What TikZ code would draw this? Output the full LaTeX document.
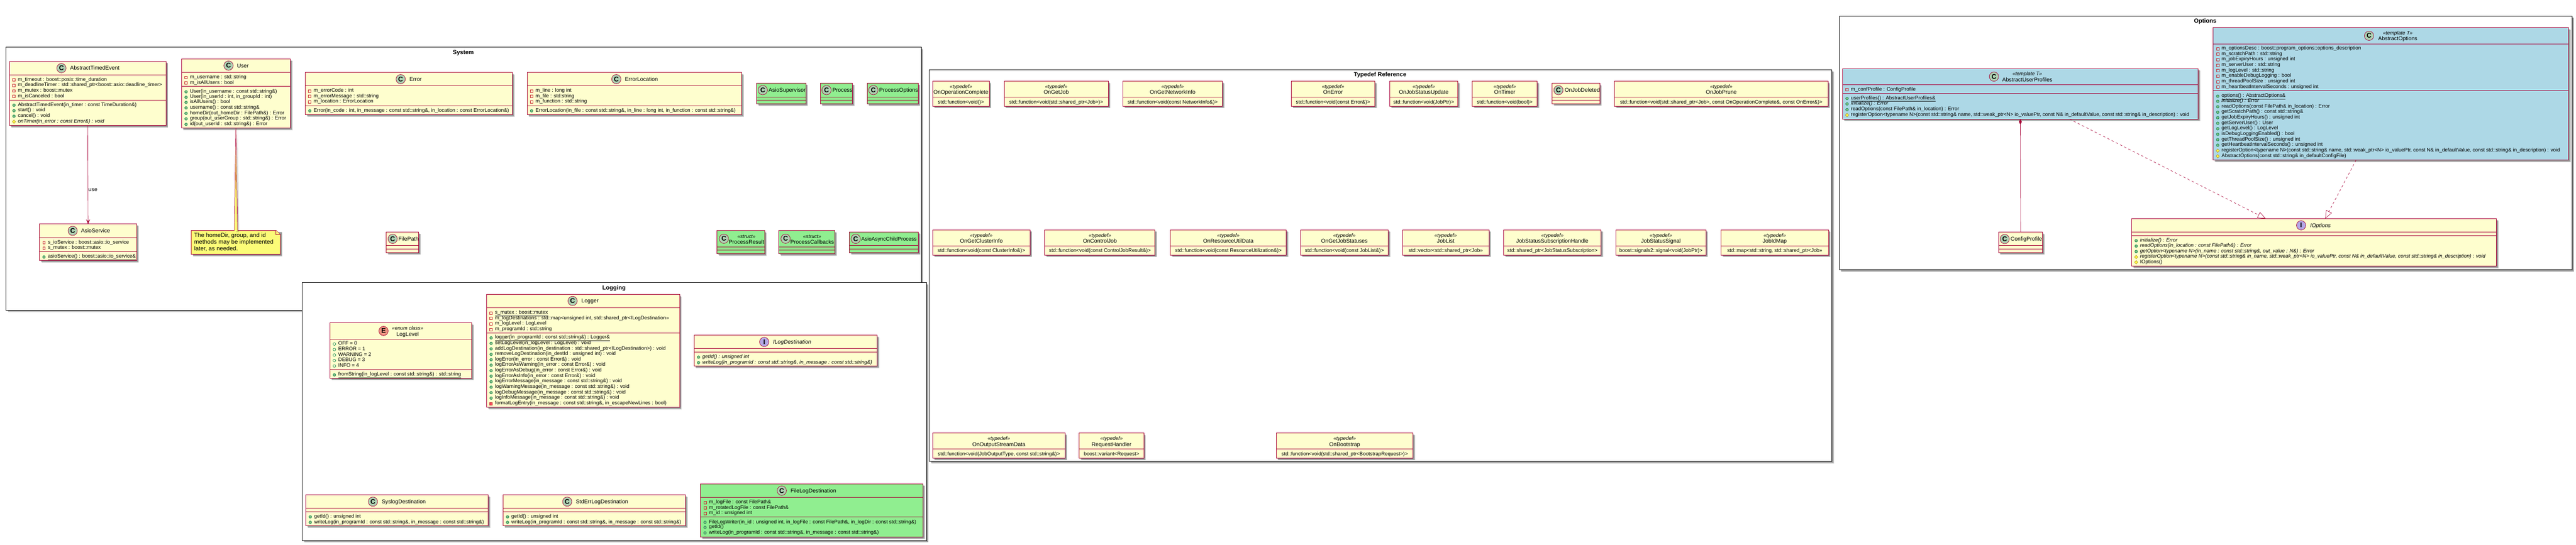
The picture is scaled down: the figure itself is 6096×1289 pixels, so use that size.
\documentclass[tikz,border=0pt]{standalone}
\usepackage{fontspec}
\setmainfont{Liberation Sans}
\usetikzlibrary{arrows.meta,calc}
\definecolor{umlred}{HTML}{A80036}
\definecolor{umlyel}{HTML}{FEFECE}
\definecolor{umlgreen}{HTML}{90EE90}
\definecolor{umlblue}{HTML}{ADD8E6}
\definecolor{spotC}{HTML}{ADD1B2}
\definecolor{spotE}{HTML}{EB937F}
\definecolor{spotI}{HTML}{B4A7E5}
\definecolor{notey}{HTML}{FBFB77}
\definecolor{icred}{HTML}{C82930}
\definecolor{icredf}{HTML}{F24D5C}
\definecolor{icgr}{HTML}{038048}
\definecolor{icgrf}{HTML}{84BE84}
\definecolor{icye}{HTML}{B38D22}
\definecolor{icyef}{HTML}{FFFF44}
\newcounter{tn}
\newcommand\fr{\fontsize{12}{13}\selectfont}
\newcommand\ft{\fontsize{13}{14}\selectfont}
\tikzset{
  classbox/.style={draw=umlred,line width=1.2pt,inner sep=0pt,outer sep=0pt},
  framebox/.style={draw=black,line width=1.2pt,fill=white,inner sep=0pt,outer sep=0pt},
  sh/.style={fill=black,opacity=.16},
  divider/.style={draw=umlred,line width=1.2pt},
  rowtxt/.style={anchor=base west,inner sep=0pt,outer sep=0pt,font=\fr},
  titletxt/.style={anchor=base west,inner sep=0pt,outer sep=0pt,font=\ft},
  steretxt/.style={anchor=base,inner sep=0pt,outer sep=0pt,font=\fr\itshape},
  nametxt/.style={anchor=base,inner sep=0pt,outer sep=0pt,font=\ft},
  fieldtxt/.style={anchor=base,inner sep=0pt,outer sep=0pt,font=\fr},
  framelabel/.style={anchor=base,inner sep=0pt,outer sep=0pt,font=\fontsize{14}{15}\selectfont\bfseries},
  spot/.style={circle,draw=umlred,line width=.9pt,minimum size=22pt,inner sep=0pt,outer sep=0pt,font=\fontsize{16}{16}\selectfont\bfseries},
  icpriv/.style={draw=icred,line width=.9pt},
  icprivm/.style={draw=icred,fill=icredf,line width=.9pt},
  icpub/.style={draw=icgr,fill=icgrf,line width=.8pt},
  icenum/.style={draw=icgr,line width=.8pt},
  icprot/.style={draw=icye,fill=icyef,line width=.8pt},
  umlline/.style={draw=umlred,line width=.8pt},
  realize/.style={draw=umlred,line width=.8pt,dash pattern=on 5.6pt off 5.6pt},
}
\newcommand\ushadow[4]{%
  \fill[sh] (#1+3,#2+3) rectangle (#3+3,#4+3);
  \fill[sh] (#1+4,#2+4) rectangle (#3+4,#4+4);
  \fill[sh] (#1+5,#2+5) rectangle (#3+5,#4+5);}
\newcommand\ubox[6]{%
  \pgfmathsetmacro\uw{#4-#2}\pgfmathsetmacro\uh{#5-#3}%
  \gdef\cL{#2}\gdef\cR{#4}%
  \ushadow{#2}{#3}{#4}{#5}
  \node[classbox,fill=#6,minimum width=\uw pt,minimum height=\uh pt] (#1) at ({(#2+#4)/2},{(#3+#5)/2}) {};}
\newcommand\ufr[8]{%
  \pgfmathsetmacro\uw{#4-#2}\pgfmathsetmacro\uh{#5-#3}%
  \ushadow{#2}{#3}{#4}{#5}
  \node[framebox,minimum width=\uw pt,minimum height=\uh pt] (#1) at ({(#2+#4)/2},{(#3+#5)/2}) {};
  \node[framelabel] (#1Label) at (#6,#7+5) {#8};}
\newcommand\hl[1]{\draw[divider] (\cL,#1) -- (\cR,#1);}
\newcommand\crow[3]{\stepcounter{tn}\node[rowtxt] (t\arabic{tn}) at (\cL+#1,#2+3.5) {#3};}
\newcommand\rpriv[2]{\draw[icpriv] (\cL+7.7,#1-2) rectangle (\cL+13.7,#1+4);\crow{20}{#1}{#2}}
\newcommand\rprivm[2]{\draw[icprivm] (\cL+7.7,#1-2) rectangle (\cL+13.7,#1+4);\crow{20}{#1}{#2}}
\newcommand\rpub[2]{\draw[icpub] (\cL+10.7,#1+1) circle (3.2pt);\crow{20}{#1}{#2}}
\newcommand\renum[2]{\draw[icenum] (\cL+10.7,#1+1) circle (3.2pt);\crow{20}{#1}{#2}}
\newcommand\rprot[2]{\draw[icprot] (\cL+10.7,#1-3.2) -- (\cL+14.5,#1+1) -- (\cL+10.7,#1+5.2) -- (\cL+6.9,#1+1) -- cycle;\crow{20}{#1}{#2}}
\newcommand\ctitle[6]{\stepcounter{tn}%
  \node[spot,fill=#1] (s\arabic{tn}) at (#3,#4) {#2};
  \node[titletxt] (n\arabic{tn}) at (#5,#4+4.5) {#6};}
\newcommand\cstereo[9]{\stepcounter{tn}%
  \node[spot,fill=#1] (s\arabic{tn}) at (#3,#4) {#2};
  \node[steretxt] (m\arabic{tn}) at (#5,#6+4) {#8};
  \node[nametxt] (n\arabic{tn}) at (#5,#7+4.5) {#9};}
\newcommand\tdef[8]{\ubox{#1}{#2}{#3}{#4}{#5}{umlyel}\hl{#6}\stepcounter{tn}%
  \node[steretxt] (m\arabic{tn}) at ({(#2+#4)/2},#3+17) {«typedef»};
  \node[nametxt] (n\arabic{tn}) at ({(#2+#4)/2},#3+31) {#7};
  \node[fieldtxt] (f\arabic{tn}) at ({(#2+#4)/2},#6+15) {#8};}
\AtBeginDocument{\catcode`\_=12 \catcode`\&=12 }
\begin{document}
\begin{tikzpicture}[x=1pt,y=-1pt]
\useasboundingbox (0,0) rectangle (6096,1289);
%% ---------- frames
\ufr{SystemFrame}{14}{112}{2180}{734}{1096.4}{123.3}{System}
\ufr{LoggingFrame}{715.3}{669}{2192.4}{1279}{1453}{680.7}{Logging}
\ufr{TypedefFrame}{2199.4}{165}{4334.7}{1092.3}{3266}{176}{Typedef Reference}
\ufr{OptionsFrame}{4352.6}{38}{6086.5}{638.4}{5218.6}{49.3}{Options}
%% ---------- System
\ubox{AbstractTimedEvent}{22.4}{145.3}{393}{297}{umlyel}\hl{177}\hl{237.3}
\ctitle{spotC}{C}{145.4}{161.3}{166}{AbstractTimedEvent}
\rpriv{188}{m_timeout : boost::posix::time_duration}
\rpriv{201}{m_deadlineTimer : std::shared_ptr<boost::asio::deadline_timer>}
\rpriv{214}{m_mutex : boost::mutex}
\rpriv{227}{m_isCanceled : bool}
\rpub{248}{AbstractTimedEvent(in_timer : const TimeDuration&)}
\rpub{261}{start() : void}
\rpub{274}{cancel() : void}
\rprot{287}{\itshape onTimer(in_error : const Error&) : void}

\ubox{User}{429.6}{139.3}{687}{303.3}{umlyel}\hl{171.7}\hl{204.3}
\ctitle{spotC}{C}{540.8}{155.3}{561}{User}
\rpriv{182.3}{m_username : std::string}
\rpriv{195.3}{m_isAllUsers : bool}
\rpub{216.3}{User(in_username : const std::string&)}
\rpub{229.3}{User(in_userId : int, in_groupId : int)}
\rpub{241.3}{isAllUsers() : bool}
\rpub{254.3}{username() : const std::string&}
\rpub{267.3}{homeDir(out_homeDir : FilePath&) : Error}
\rpub{280.3}{group(out_userGroup : std::string&) : Error}
\rpub{293.3}{id(out_userId : std::string&) : Error}

\ubox{Error}{722.4}{171.3}{1212.5}{271.3}{umlyel}\hl{203}\hl{250.3}
\ctitle{spotC}{C}{948.2}{187.3}{969}{Error}
\rpriv{214.3}{m_errorCode : int}
\rpriv{227.3}{m_errorMessage : std::string}
\rpriv{240.3}{m_location : ErrorLocation}
\rpub{261.3}{Error(in_code : int, in_message : const std::string&, in_location : const ErrorLocation&)}

\ubox{ErrorLocation}{1247.3}{171.3}{1755.3}{271.3}{umlyel}\hl{203}\hl{250.3}
\ctitle{spotC}{C}{1458.5}{187.3}{1479}{ErrorLocation}
\rpriv{214.3}{m_line : long int}
\rpriv{227.3}{m_file : std:string}
\rpriv{240.3}{m_function : std::string}
\rpub{261.3}{ErrorLocation(in_file : const std::string&, in_line : long int, in_function : const std::string&)}

\ubox{AsioSupervisor}{1790.4}{196.7}{1906.9}{245.7}{umlgreen}\hl{229.3}\hl{237.7}
\ctitle{spotC}{C}{1805}{213.3}{1819}{AsioSupervisor}
\ubox{Process}{1941.3}{196.7}{2017.7}{245.7}{umlgreen}\hl{229.3}\hl{237.7}
\ctitle{spotC}{C}{1956}{213.3}{1970}{Process}
\ubox{ProcessOptions}{2052}{196.7}{2172.7}{245.7}{umlgreen}\hl{229.3}\hl{237.7}
\ctitle{spotC}{C}{2066.8}{213.3}{2080.8}{ProcessOptions}

\ubox{AsioService}{93.4}{530.3}{323.5}{616.7}{umlyel}\hl{562.3}\hl{595}
\ctitle{spotC}{C}{172}{546.3}{191.8}{AsioService}
\rpriv{573.3}{s_ioService : boost::asio::io_service}
\rpriv{586.3}{s_mutex : boost::mutex}
\rpub{607.3}{\underline{asioService() : boost::asio::io_service&}}

\ubox{FilePath}{914}{549}{990.7}{597.7}{umlyel}\hl{581.3}\hl{589.3}
\ctitle{spotC}{C}{929.2}{565.3}{943}{FilePath}

\ubox{ProcessResult}{1696.9}{545.7}{1809.4}{601}{umlgreen}\hl{584}\hl{592.3}
\cstereo{spotC}{C}{1713}{565}{1766.5}{559.3}{572.7}{«struct»}{ProcessResult}
\ubox{ProcessCallbacks}{1842.8}{545.7}{1975.4}{601}{umlgreen}\hl{584}\hl{592.3}
\cstereo{spotC}{C}{1859}{565}{1921.9}{559.3}{572.7}{«struct»}{ProcessCallbacks}
\ubox{AsioAsyncChildProcess}{2010.2}{548.7}{2173.6}{597.7}{umlgreen}\hl{581.3}\hl{589.3}
\ctitle{spotC}{C}{2025}{565.3}{2038.4}{\fontsize{12.4}{14}\selectfont AsioAsyncChildProcess}

%% note on User
\ushadow{452.6}{545.3}{663.3}{601.7}
\path[draw=umlred,fill=notey,line width=1.2pt] (452.6,545.3) -- (653.3,545.3) -- (663.3,555.3) -- (663.3,601.7) -- (452.6,601.7) -- cycle;
\path[draw=umlred,fill=notey,line width=.9pt] (653.3,545.3) -- (653.3,555.3) -- (663.3,555.3);
\node[inner sep=0pt,outer sep=0pt,minimum width=210.7pt,minimum height=56.4pt] (UserNote) at (558,573.5) {};
\node[anchor=north west,inner sep=0pt,outer sep=0pt,align=left,font=\fontsize{14}{15.7}\selectfont] (UserNoteText) at (459.5,551) {The homeDir, group, and id\\methods may be implemented\\later, as needed.};
\fill[sh] ($(User.south)+(4,4)$) -- ($(UserNote.north)+(8,4)$) -- ($(UserNote.north)+(1,4)$) -- cycle;
\path[fill=notey] ($(UserNote.north)+(-3.4,.8)$) -- (User.south) -- ($(UserNote.north)+(4.2,.8)$) -- cycle;
\draw[draw=umlred,line width=.9pt] ($(UserNote.north)+(-3.4,0)$) -- (User.south) -- ($(UserNote.north)+(4.2,0)$);

\draw[umlline,-{Stealth[length=11pt,width=9pt,inset=4pt]}] (AbstractTimedEvent.south) -- node[pos=.655,right=.8pt,inner sep=0pt,font=\ft] (useLabel) {use} (AsioService.north);

%% ---------- Typedef Reference
\tdef{OnOperationComplete}{2207}{192}{2341.1}{251.3}{230.3}{OnOperationComplete}{std::function<void()>}
\tdef{OnGetJob}{2376.2}{192}{2622.8}{251.3}{230.3}{OnGetJob}{std::function<void(std::shared_ptr<Job>)>}
\tdef{OnGetNetworkInfo}{2657.1}{192}{2892.8}{251.3}{230.3}{OnGetNetworkInfo}{std::function<void(const NetworkInfo&)>}
\tdef{OnError}{3055.6}{192}{3253.4}{251.3}{230.3}{OnError}{std::function<void(const Error&)>}
\tdef{OnJobStatusUpdate}{3288.5}{192}{3449.8}{251.3}{230.3}{OnJobStatusUpdate}{std::function<void(JobPtr)>}
\tdef{OnTimer}{3484.2}{192}{3637.6}{251.3}{230.3}{OnTimer}{std::function<void(bool)>}
\ubox{OnJobDeleted}{3673.3}{196.9}{3785.6}{245.5}{umlyel}\hl{229.5}\hl{237.5}
\ctitle{spotC}{C}{3688}{213.4}{3702.7}{OnJobDeleted}
\tdef{OnJobPrune}{3820.7}{192}{4325.8}{251.3}{230.3}{OnJobPrune}{std::function<void(std::shared_ptr<Job>, const OnOperationComplete&, const OnError&)>}

\tdef{OnGetClusterInfo}{2207.1}{544}{2437.5}{603.7}{582.3}{OnGetClusterInfo}{std::function<void(const ClusterInfo&)>}
\tdef{OnControlJob}{2472.3}{544}{2733.4}{603.7}{582.3}{OnControlJob}{std::function<void(const ControlJobResult&)>}
\tdef{OnResourceUtilData}{2769.6}{544}{3044.1}{603.7}{582.3}{OnResourceUtilData}{std::function<void(const ResourceUtilization&)>}
\tdef{OnGetJobStatuses}{3077.6}{544}{3285.2}{603.7}{582.3}{OnGetJobStatuses}{std::function<void(const JobList&)>}
\tdef{JobList}{3318.7}{544}{3523.6}{603.7}{582.3}{JobList}{std::vector<std::shared_ptr<Job>>}
\tdef{JobStatusSubscriptionHandle}{3558.4}{544}{3788.8}{603.7}{582.3}{JobStatusSubscriptionHandle}{std::shared_ptr<JobStatusSubscription>}
\tdef{JobStatusSignal}{3823.9}{544}{4036.9}{603.7}{582.3}{JobStatusSignal}{boost::signals2::signal<void(JobPtr)>}
\tdef{JobIdMap}{4072.6}{544}{4327}{603.7}{582.3}{JobIdMap}{std::map<std::string, std::shared_ptr<Job>>}

\tdef{OnOutputStreamData}{2207.1}{1025}{2520.5}{1084.7}{1063}{OnOutputStreamData}{std::function<void(JobOutputType, const std::string&)>}
\tdef{RequestHandler}{2554}{1025}{2706.6}{1084.7}{1063}{RequestHandler}{boost::variant<Request>}
\tdef{OnBootstrap}{3020}{1025}{3344.1}{1084.7}{1063}{OnBootstrap}{std::function<void(std::shared_ptr<BootstrapRequest>)>}

%% ---------- Logging
\ubox{LogLevel}{780.6}{764.3}{1116.5}{895}{umlyel}\hl{802.3}\hl{875}
\cstereo{spotE}{E}{907.6}{783.3}{964.6}{777}{790.7}{«enum class»}{LogLevel}
\renum{813.3}{OFF = 0}
\renum{826.3}{ERROR = 1}
\renum{839.3}{WARNING = 2}
\renum{852.3}{DEBUG = 3}
\renum{865.3}{INFO = 4}
\rpub{886.3}{\underline{fromString(in_logLevel : const std::string&) : std::string}}

\ubox{Logger}{1151.5}{696.7}{1608.2}{964.3}{umlyel}\hl{728.3}\hl{787.7}
\ctitle{spotC}{C}{1355}{712.3}{1376}{Logger}
\rpriv{739.7}{\underline{s_mutex : boost::mutex}}
\rpriv{752.7}{m_logDestinations : std::map<unsigned int, std::shared_ptr<ILogDestination>>}
\rpriv{765.7}{m_logLevel : LogLevel}
\rpriv{778.7}{m_programId : std::string}
\rpub{798.7}{\underline{logger(in_programId : const std::string&) : Logger&}}
\rpub{811.7}{setLogLevel(in_logLevel : LogLevel) : void}
\rpub{824.7}{addLogDestination(in_destination : std::shared_ptr<ILogDestination>) : void}
\rpub{837.7}{removeLogDestination(in_destId : unsigned int) : void}
\rpub{850.3}{logError(in_error : const Error&) : void}
\rpub{863.3}{logErrorAsWarning(in_error : const Error&) : void}
\rpub{876.3}{logErrorAsDebug(in_error : const Error&) : void}
\rpub{889.3}{logErrorAsInfo(in_error : const Error&) : void}
\rpub{902.3}{logErrorMessage(in_message : const std::string&) : void}
\rpub{915.3}{logWarningMessage(in_message : const std::string&) : void}
\rpub{928.3}{logDebugMessage(in_message : const std::string&) : void}
\rpub{941.3}{logInfoMessage(in_message : const std::string&) : void}
\rprivm{954.3}{formatLogEntry(in_message : const std::string&, in_escapeNewLines : bool)}

\ubox{ILogDestination}{1642.3}{793.3}{2075.9}{866.3}{umlyel}\hl{825}\hl{833.3}
\ctitle{spotI}{I}{1808.5}{809.3}{1829.5}{\itshape ILogDestination}
\rpub{844.3}{\itshape getId() : unsigned int}
\rpub{857.3}{\itshape writeLog(in_programId : const std::string&, in_message : const std::string&)}

\ubox{SyslogDestination}{723.5}{1171.3}{1155.6}{1244.7}{umlyel}\hl{1203.3}\hl{1211}
\ctitle{spotC}{C}{882.5}{1187.3}{903.5}{SyslogDestination}
\rpub{1222.3}{getId() : unsigned int}
\rpub{1235.3}{writeLog(in_programId : const std::string&, in_message : const std::string&)}

\ubox{StdErrLogDestination}{1190.3}{1171.3}{1622.4}{1244.7}{umlyel}\hl{1203.3}\hl{1211}
\ctitle{spotC}{C}{1342.3}{1187.3}{1362.8}{StdErrLogDestination}
\rpub{1222.3}{getId() : unsigned int}
\rpub{1235.3}{writeLog(in_programId : const std::string&, in_message : const std::string&)}

\ubox{FileLogDestination}{1657.7}{1145.3}{2184}{1270.7}{umlgreen}\hl{1177}\hl{1223.3}
\ctitle{spotC}{C}{1850}{1161.3}{1871}{FileLogDestination}
\rpriv{1188.3}{m_logFile : const FilePath&}
\rpriv{1201.3}{m_rotatedLogFile : const FilePath&}
\rpriv{1214.3}{m_id : unsigned int}
\rpub{1235.3}{FileLogWriter(in_id : unsigned int, in_logFile : const FilePath&, in_logDir : const std::string&)}
\rpub{1247.3}{getId()}
\rpub{1260.3}{writeLog(in_programId : const std::string&, in_message : const std::string&)}

%% ---------- Options
\ubox{AbstractUserProfiles}{4360.2}{162.3}{5201.9}{281.7}{umlblue}\hl{200.3}\hl{221}
\cstereo{spotC}{C}{4718.6}{181.3}{4797.5}{175}{188.7}{«template T»}{AbstractUserProfiles}
\rpriv{211.2}{m_confProfile : ConfigProfile}
\rpub{232.1}{\underline{userProfiles() : AbstractUserProfiles&}}
\rpub{245}{\itshape initialize() : Error}
\rpub{258.5}{readOptions(const FilePath& in_location) : Error}
\rprot{271.4}{registerOption<typename N>(const std::string& name, std::weak_ptr<N> io_valuePtr, const N& in_defaultValue, const std::string& in_description) : void}

\ubox{AbstractOptions}{5237.4}{65.7}{6078.6}{378.7}{umlblue}\hl{103.7}\hl{214.3}
\cstereo{spotC}{C}{5606.2}{84.7}{5674.2}{78}{91.7}{«template T»}{AbstractOptions}
\rpriv{114.3}{m_optionsDesc : boost::program_options::options_description}
\rpriv{127.3}{m_scratchPath : std::string}
\rpriv{140.3}{m_jobExpiryHours : unsigned int}
\rpriv{153.3}{m_serverUser : std::string}
\rpriv{166.3}{m_logLevel : std::string}
\rpriv{179.3}{m_enableDebugLogging : bool}
\rpriv{192.3}{m_threadPoolSize : unsigned int}
\rpriv{205.3}{m_heartbeatIntervalSeconds : unsigned int}
\rpub{226.7}{\underline{options() : AbstractOptions&}}
\rpub{238.7}{\itshape initialize() : Error}
\rpub{251.7}{readOptions(const FilePath& in_location) : Error}
\rpub{264.7}{getScratchPath() : const std::string&}
\rpub{277.7}{getJobExpiryHours() : unsigned int}
\rpub{290.7}{getServerUser() : User}
\rpub{303.7}{getLogLevel() : LogLevel}
\rpub{316.7}{isDebugLoggingEnabled() : bool}
\rpub{329.7}{getThreadPoolSize() : unsigned int}
\rpub{342.7}{getHeartbeatIntervalSeconds() : unsigned int}
\rprot{355.7}{registerOption<typename N>(const std::string& name, std::weak_ptr<N> io_valuePtr, const N& in_defaultValue, const std::string& in_description) : void}
\rprot{368.7}{AbstractOptions(const std::string& in_defaultConfigFile)}

\ubox{ConfigProfile}{4729.3}{549.3}{4833.9}{597.7}{umlyel}\hl{581.3}\hl{589.7}
\ctitle{spotC}{C}{4744}{565.7}{4758}{ConfigProfile}

\ubox{IOptions}{5044.4}{517.3}{5908}{629.7}{umlyel}\hl{549}\hl{557.3}
\ctitle{spotI}{I}{5445.5}{533.3}{5467}{\itshape IOptions}
\rpub{568.7}{\itshape initialize() : Error}
\rpub{581.5}{\itshape readOptions(in_location : const FilePath&) : Error}
\rpub{594.3}{\itshape getOption<typename N>(in_name : const std::string&, out_value : N&) : Error}
\rprot{607.3}{\itshape registerOption<typename N>(const std::string& in_name, std::weak_ptr<N> io_valuePtr, const N& in_defaultValue, const std::string& in_description) : void}
\rprot{619.7}{IOptions()}

\draw[umlline,{Diamond[length=13pt,width=7pt]}-] (AbstractUserProfiles.south) -- (ConfigProfile.north);
\draw[realize,-{Triangle[open,length=19pt,width=15pt,fill=white,line width=.8pt]}] ($(AbstractUserProfiles.south)+(116,0)$) -- ($(IOptions.north)+(-114.6,0)$);
\draw[realize,-{Triangle[open,length=19pt,width=15pt,fill=white,line width=.8pt]}] ($(AbstractOptions.south)+(-82.4,0)$) -- ($(IOptions.north)+(26.3,0)$);
\end{tikzpicture}
\end{document}
